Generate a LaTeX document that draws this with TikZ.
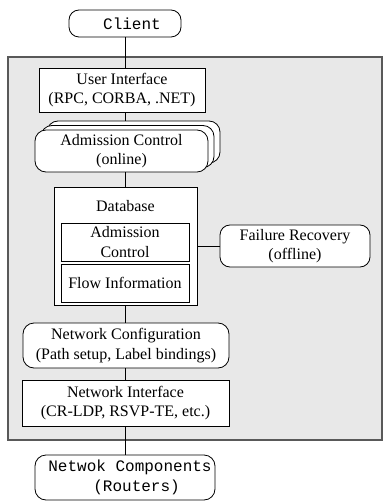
\documentclass[tikz,border=0pt]{standalone}
\usepackage{fontspec}
\setmainfont{Liberation Serif}
\setmonofont{Liberation Mono}
\begin{document}
\begin{tikzpicture}[x=1pt,y=-1pt,
  every node/.style={font=\fontsize{16}{19.5}\selectfont, align=center, inner sep=0pt},
  box/.style={draw, fill=white, line width=0.8pt},
  rbox/.style={box, rounded corners=11pt},
  conn/.style={line width=0.8pt}]
\useasboundingbox (0,0) rectangle (383,502);
% gray region
\draw[line width=1.2pt, draw=black!65, fill=black!9] (8,57) rectangle (382,440);
% nodes
\node[rbox, minimum width=112pt, minimum height=27pt, rounded corners=10pt] (client) at (125,23.5) {\ttfamily\hspace*{14pt}Client};
\node[box, minimum width=166pt, minimum height=44pt] (ui) at (122,90) {User Interface\\(RPC, CORBA, .NET)};
% stacked admission control
\node[rbox, minimum width=173pt, minimum height=42pt] (admb) at (133.5,142) {};
\node[rbox, minimum width=173pt, minimum height=42pt] (admm) at (127.5,146.5) {};
\node[rbox, minimum width=173pt, minimum height=42pt] (adm) at (121.5,151) {Admission Control\\(online)};
% database
\node[box, minimum width=143pt, minimum height=118pt] (db) at (125.5,246) {};
\node (dbl) at (125.5,206) {Database};
\node[box, minimum width=128pt, minimum height=38pt] (dbadm) at (125,242) {Admission\\Control};
\node[box, minimum width=128pt, minimum height=38pt] (dbflow) at (125,283) {Flow Information};
\node[rbox, minimum width=150pt, minimum height=42pt, rounded corners=10pt] (fail) at (295,246) {Failure Recovery\\(offline)};
\node[rbox, minimum width=206pt, minimum height=45pt] (netconf) at (126,345.5) {Network Configuration\\(Path setup, Label bindings)};
\node[box, minimum width=207pt, minimum height=46pt] (netif) at (125.5,403) {Network Interface\\(CR-LDP, RSVP-TE, etc.)};
\node[rbox, minimum width=180pt, minimum height=45pt] (comp) at (125,477.5) {\hspace*{10pt}\begin{tabular}{@{}l@{}}\ttfamily Netwok Components\\\ttfamily\hspace*{45pt}(Routers)\end{tabular}};
% connectors
\draw[conn] (client.south) -- (client.south |- ui.north);
\draw[conn] (client.south |- ui.south) -- (client.south |- admb.north);
\draw[conn] (client.south |- adm.south) -- (client.south |- db.north);
\draw[conn] (client.south |- db.south) -- (client.south |- netconf.north);
\draw[conn] (client.south |- netconf.south) -- (client.south |- netif.north);
\draw[conn] (client.south |- netif.south) -- (client.south |- comp.north);
\draw[conn] (db.east) -- (fail.west);
\end{tikzpicture}
\end{document}
